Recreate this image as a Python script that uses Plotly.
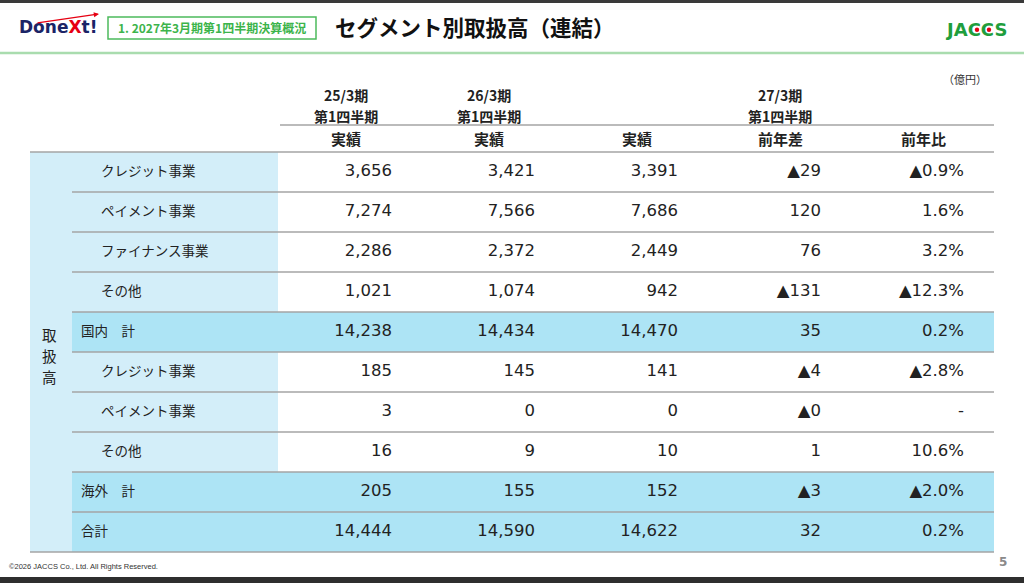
import math

import plotly.graph_objects as go

# ---- data (億円) ----
segments = [
    "クレジット事業",
    "ペイメント事業",
    "ファイナンス事業",
    "その他",
    "国内　計",
    "クレジット事業",
    "ペイメント事業",
    "その他",
    "海外　計",
    "合計",
]
is_total = [False, False, False, False, True, False, False, False, True, True]
fy25_q1 = [3656, 7274, 2286, 1021, 14238, 185, 3, 16, 205, 14444]
fy26_q1 = [3421, 7566, 2372, 1074, 14434, 145, 0, 9, 155, 14590]
fy27_q1 = [3391, 7686, 2449, 942, 14470, 141, 0, 10, 152, 14622]
yoy_diff = [-29, 120, 76, -131, 35, -4, -0.0, 1, -3, 32]
yoy_pct = [-0.9, 1.6, 3.2, -12.3, 0.2, -2.8, None, 10.6, -2.0, 0.2]

period_labels = ["25/3期", "26/3期", "27/3期"]
quarter_label = "第1四半期"
sub_headers = ["実績", "実績", "実績", "前年差", "前年比"]
group_label = "取扱高"

# ---- layout constants (page pixels) ----
W, H = 1024, 583
TABLE_LEFT, GROUP_RIGHT, LABEL_RIGHT, TABLE_RIGHT = 30, 72, 278, 994
HEAD_LINE_Y, BODY_TOP, ROW_H = 125, 152, 40
COL_RIGHT = [392, 535, 678, 821, 964]
HEAD_CENTER = [346, 489, 637, 780, 923]
PERIOD_CENTER = [346, 489, 780]

NUM_FONT = "DejaVu Sans, Noto Sans CJK JP"
JP_FONT = "Noto Sans CJK JP, DejaVu Sans"
LINE_COLOR = "#a4a4a4"
LIGHT_BLUE = "#d3eef9"
TOTAL_BLUE = "#ade4f5"


def _fmt_int(v):
    neg = v < 0 or (v == 0 and math.copysign(1, v) < 0)
    return ("▲" if neg else "") + f"{abs(v):,.0f}"


def _fmt_pct(v):
    if v is None:
        return "-"
    return ("▲" if v < 0 else "") + f"{abs(v):.1f}%"


def _row_center(i):
    return BODY_TOP + ROW_H * i + ROW_H / 2


def main():
    fig = go.Figure()
    shapes = []

    # label column background + total rows
    shapes.append(dict(type="rect", x0=TABLE_LEFT, x1=LABEL_RIGHT, y0=BODY_TOP,
                       y1=BODY_TOP + ROW_H * len(segments), fillcolor=LIGHT_BLUE,
                       line_width=0, layer="below"))
    for i, tot in enumerate(is_total):
        if tot:
            shapes.append(dict(type="rect", x0=GROUP_RIGHT, x1=TABLE_RIGHT,
                               y0=BODY_TOP + ROW_H * i, y1=BODY_TOP + ROW_H * (i + 1),
                               fillcolor=TOTAL_BLUE, line_width=0, layer="below"))

    # rules
    def hline(y, x0, x1, w=1.6):
        shapes.append(dict(type="line", x0=x0, x1=x1, y0=y, y1=y,
                           line=dict(color=LINE_COLOR, width=w)))

    hline(HEAD_LINE_Y, 280, TABLE_RIGHT)
    hline(BODY_TOP, TABLE_LEFT, TABLE_RIGHT)
    for i in range(1, len(segments)):
        hline(BODY_TOP + ROW_H * i, GROUP_RIGHT, TABLE_RIGHT)
    hline(BODY_TOP + ROW_H * len(segments), TABLE_LEFT, TABLE_RIGHT)

    # page decoration
    shapes.append(dict(type="rect", x0=0, x1=W, y0=0, y1=3, fillcolor="#3a3a3a", line_width=0))
    shapes.append(dict(type="rect", x0=0, x1=W, y0=577, y1=H, fillcolor="#2e2e2e", line_width=0))
    shapes.append(dict(type="line", x0=0, x1=W, y0=53, y1=53,
                       line=dict(color="#a9dcae", width=2.5)))
    shapes.append(dict(type="rect", x0=108, x1=316, y0=17, y1=39,
                       line=dict(color="#4cbb5c", width=1.5), fillcolor="white"))
    for cx in (977, 989):
        shapes.append(dict(type="circle", x0=cx - 2.2, x1=cx + 2.2, y0=27.6, y1=32,
                           fillcolor="#e60012", line_width=0))

    # value columns
    columns = [
        [_fmt_int(v) for v in fy25_q1],
        [_fmt_int(v) for v in fy26_q1],
        [_fmt_int(v) for v in fy27_q1],
        [_fmt_int(v) for v in yoy_diff],
        [_fmt_pct(v) for v in yoy_pct],
    ]
    ys = [_row_center(i) for i in range(len(segments))]
    for xr, texts in zip(COL_RIGHT, columns):
        fig.add_trace(go.Scatter(
            x=[xr] * len(texts), y=ys, text=texts, mode="text",
            textposition="middle left",
            textfont=dict(family=NUM_FONT, size=16.5, color="#222222"),
            hoverinfo="skip", showlegend=False,
        ))

    annotations = []

    def note(x, y, text, size, color="#222222", bold=False, xanchor="center",
             family=JP_FONT):
        if bold:
            text = f"<b>{text}</b>"
        annotations.append(dict(x=x, y=y, xref="x", yref="y", text=text,
                                showarrow=False, xanchor=xanchor, yanchor="middle",
                                font=dict(family=family, size=size, color=color)))

    # row labels
    for i, (lab, tot) in enumerate(zip(segments, is_total)):
        note(79 if tot else 99, _row_center(i) - 2, lab, 13.5, xanchor="left")

    # group label (vertical, one glyph per line)
    for k, ch in enumerate(group_label):
        note(49, 334.5 + 21.2 * k, ch, 14.5)

    # headers
    for xc, lab in zip(PERIOD_CENTER, period_labels):
        note(xc, 95, lab, 14, bold=True)
        note(xc, 115.5, quarter_label, 14, bold=True)
    for xc, lab in zip(HEAD_CENTER, sub_headers):
        note(xc, 138, lab, 15, bold=True)
    note(965, 79, "（億円）", 11, color="#333333")

    # page header / footer
    note(17, 27, "Done<span style='color:#e60012'>X</span>t!", 17, color="#1b2466",
         bold=True, xanchor="left", family="DejaVu Sans")
    annotations.append(dict(x=99, y=14, ax=36, ay=23, xref="x", yref="y", axref="x",
                            ayref="y", text="", showarrow=True, arrowhead=2,
                            arrowsize=0.8, arrowwidth=1.3, arrowcolor="#e60012"))
    note(212, 27, "1. 2027年3月期第1四半期決算概況", 12, color="#3cb44b", bold=True)
    note(333, 26, "セグメント別取扱高（連結）", 21.5, color="#111111", bold=True,
         xanchor="left")
    note(976, 29, "JACCS", 18, color="#1f9e3d", bold=True, family="DejaVu Sans")
    note(7, 566, "©2026 JACCS Co., Ltd. All Rights Reserved.", 7.5, color="#333333",
         xanchor="left", family="Liberation Sans")
    note(1003, 562, "5", 12, color="#8a8a8a", bold=True, family="DejaVu Sans")

    fig.update_layout(
        width=W,
        height=H,
        margin=dict(l=0, r=0, t=0, b=0),
        paper_bgcolor="white",
        plot_bgcolor="white",
        xaxis=dict(range=[0, W], visible=False, fixedrange=True),
        yaxis=dict(range=[H, 0], visible=False, fixedrange=True),
        shapes=shapes,
        annotations=annotations,
        showlegend=False,
    )
    fig.write_html(
        "out.html",
        config={"displayModeBar": False},
        post_script="document.body.style.margin='0';document.body.style.overflow='hidden';",
    )


if __name__ == "__main__":
    main()
